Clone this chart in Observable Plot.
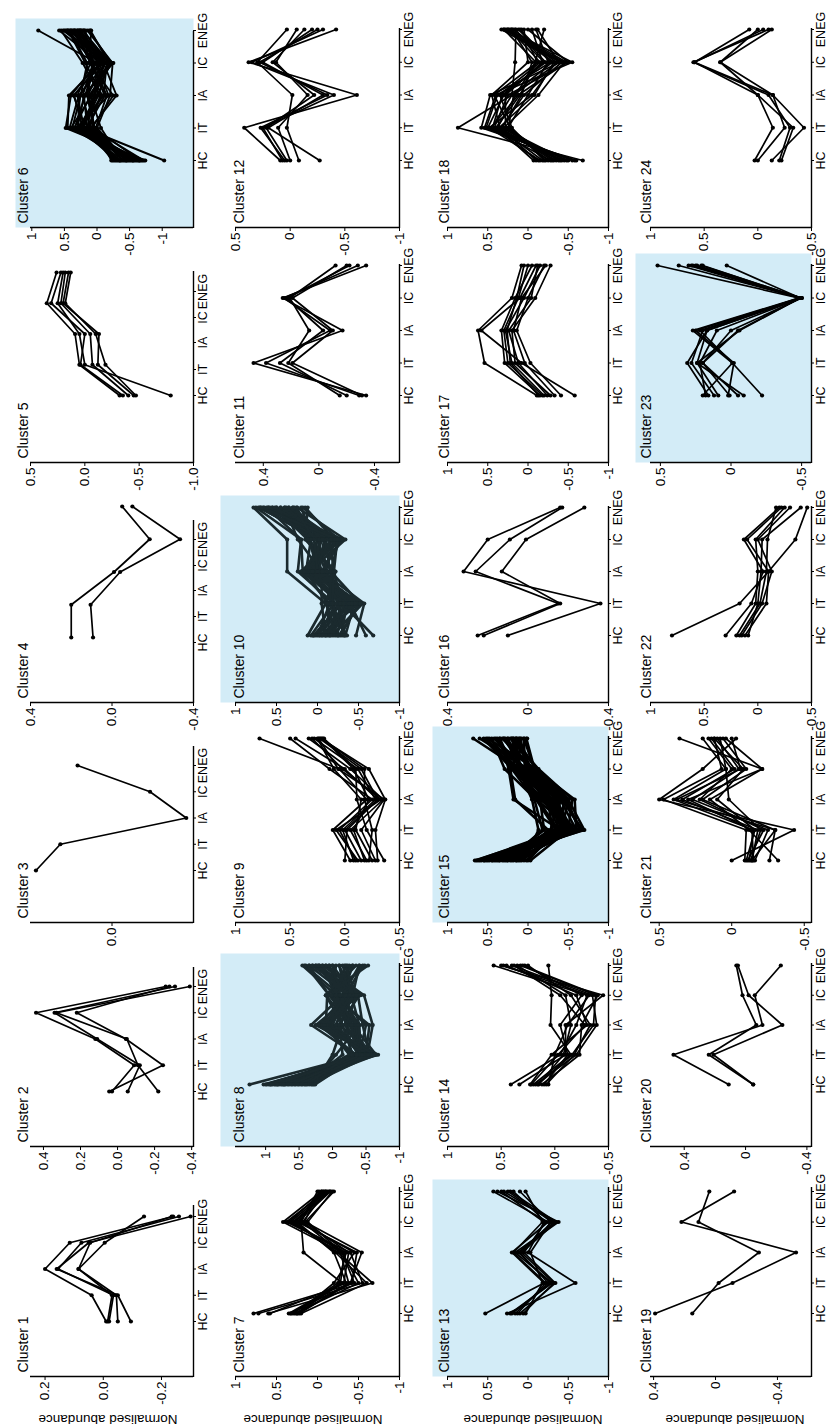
<!DOCTYPE html>
<html><head><meta charset="utf-8">
<script src="https://cdn.jsdelivr.net/npm/d3@7"></script>
<script src="https://cdn.jsdelivr.net/npm/@observablehq/plot@0.6"></script>
<style>
html,body{margin:0;padding:0;background:#fff;}
body{width:831px;height:1427px;overflow:hidden;position:relative;}
#land{position:absolute;left:0;top:0;width:1427px;height:831px;transform-origin:0 0;transform:translate(0px,1427px) rotate(-90deg);}
#land svg{position:absolute;left:0;top:0;overflow:visible;}
</style></head><body><div id="land"></div>
<script>
const categories = ["HC","IT","IA","IC","ENEG"];
const yTitle = "Normalised abundance";

const c1Lines = [
  [-0.01, 0.04, 0.2, 0.115, -0.24],
  [-0.02, -0.035, 0.155, 0.075, -0.26],
  [-0.05, -0.045, 0.085, -0.005, -0.14],
  [-0.095, -0.05, 0.16, 0.05, -0.3],
  [-0.015, -0.03, 0.085, 0.045, -0.235]];
const c1Ticks = [0.2, 0, -0.2], c1Labels = ["0.2","0.0","-0.2"], c1Domain = [-0.31, 0.25];

const c2Lines = [
  [0.045, -0.245, -0.045, 0.22, -0.28],
  [0.03, -0.09, 0.12, 0.44, -0.26],
  [-0.055, -0.12, 0.11, 0.34, -0.31],
  [-0.22, -0.11, -0.05, 0.33, -0.39]];
const c2Ticks = [0.4, 0.2, 0, -0.2, -0.4], c2Labels = ["0.4","0.2","0.0","-0.2","-0.4"], c2Domain = [-0.41, 0.47];

const c3Lines = [[0.42, 0.285, -0.41, -0.21, 0.19]];
const c3Ticks = [0], c3Labels = ["0.0"], c3Domain = [-0.45, 0.45];

const c4Lines = [
  [0.2, 0.2, -0.01, -0.185, -0.05],
  [0.093, 0.105, -0.04, -0.334, -0.1]];
const c4Ticks = [0.4, 0, -0.4], c4Labels = ["0.4","0.0","-0.4"], c4Domain = [-0.4, 0.4];

const c5Lines = [
  [-0.32, 0.05, 0.09, 0.35, 0.26],
  [-0.35, 0.04, 0.0, 0.31, 0.22],
  [-0.4, -0.07, -0.05, 0.22, 0.18],
  [-0.45, -0.12, -0.13, 0.2, 0.15],
  [-0.47, -0.19, -0.1, 0.18, 0.13],
  [-0.79, 0.0, 0.05, 0.25, 0.2]];
const c5Ticks = [0.5, 0, -0.5, -1], c5Labels = ["0.5","0.0","-0.5","-1.0"], c5Domain = [-1, 0.5];

const c6Lines = [
  [-1.03, 0.2, 0.05, -0.1, 0.3],
  [-0.74, 0.48, 0.4, 0.0, 0.9],
  [-0.7, 0.45, 0.43, -0.05, 0.58],
  [-0.65, 0.35, 0.1, -0.2, 0.5],
  [-0.6, 0.3, 0.2, -0.25, 0.45],
  [-0.58, 0.25, -0.1, -0.15, 0.4],
  [-0.55, 0.2, 0.3, 0.1, 0.35],
  [-0.52, 0.15, 0.05, -0.22, 0.3],
  [-0.5, 0.1, -0.3, -0.1, 0.25],
  [-0.48, 0.05, 0.15, 0.05, 0.2],
  [-0.45, 0.0, -0.2, -0.24, 0.15],
  [-0.42, 0.38, 0.25, 0.15, 0.42],
  [-0.4, 0.12, -0.05, 0.22, 0.55],
  [-0.38, -0.06, 0.1, -0.18, 0.1],
  [-0.35, 0.22, 0.35, -0.08, 0.28],
  [-0.32, 0.08, -0.25, 0.12, 0.09],
  [-0.3, 0.28, 0.0, -0.02, 0.38],
  [-0.26, 0.15, 0.2, -0.2, 0.22],
  [-0.22, 0.02, -0.15, 0.08, 0.18],
  [-0.62, 0.4, 0.08, -0.12, 0.33],
  [-0.68, 0.32, -0.18, 0.02, 0.48],
  [-0.56, 0.42, 0.28, -0.14, 0.52],
  [-0.46, 0.18, 0.36, -0.06, 0.26],
  [-0.36, 0.26, -0.08, 0.18, 0.44],
  [-0.28, 0.04, 0.12, -0.22, 0.12],
  [-0.72, 0.1, 0.22, 0.06, 0.36],
  [-0.64, 0.22, -0.02, -0.18, 0.27],
  [-0.54, 0.34, 0.18, 0.04, 0.46],
  [-0.44, 0.1, 0.04, -0.12, 0.2],
  [-0.34, 0.3, 0.26, -0.04, 0.34],
  [-0.24, 0.16, -0.12, 0.1, 0.24],
  [-0.66, 0.05, 0.14, -0.08, 0.4]];
const c6Ticks = [1, 0.5, 0, -0.5, -1], c6Labels = ["1","0.5","0","-0.5","-1"], c6Domain = [-1.48, 1.02];

const c7Lines = [
  [0.78, -0.45, -0.3, 0.42, -0.05],
  [0.72, -0.55, -0.4, 0.38, -0.1],
  [0.6, -0.67, -0.25, 0.3, -0.15],
  [0.58, -0.35, -0.2, 0.25, -0.08],
  [0.35, -0.3, 0.17, 0.2, 0.0],
  [0.33, -0.4, -0.54, 0.15, -0.2],
  [0.3, -0.25, -0.35, 0.33, -0.12],
  [0.28, -0.5, -0.3, 0.12, -0.18],
  [0.25, -0.2, -0.45, 0.22, -0.05],
  [0.22, -0.38, -0.28, 0.18, -0.1],
  [0.2, -0.6, -0.22, 0.28, -0.14],
  [0.32, -0.32, -0.38, 0.16, -0.02],
  [0.26, -0.42, -0.48, 0.24, -0.16],
  [0.24, -0.28, -0.33, 0.35, -0.07]];
const c7Ticks = [1, 0.5, 0, -0.5, -1], c7Labels = ["1","0.5","0","-0.5","-1"], c7Domain = [-1, 1];

const c8Lines = [
  [1.24, -0.45, -0.2, -0.1, 0.2],
  [1.03, -0.6, 0.1, -0.3, -0.4],
  [1.0, -0.5, -0.3, 0.05, 0.35],
  [0.98, -0.55, 0.2, -0.2, -0.1],
  [0.95, -0.4, -0.5, -0.05, 0.45],
  [0.92, -0.62, -0.1, -0.4, 0.1],
  [0.9, -0.35, 0.32, -0.15, -0.3],
  [0.87, -0.48, -0.25, 0.1, -0.53],
  [0.85, -0.58, 0.05, -0.35, 0.3],
  [0.82, -0.42, -0.4, -0.1, 0.0],
  [0.8, -0.68, 0.15, -0.25, 0.25],
  [0.77, -0.3, -0.15, 0.0, -0.2],
  [0.75, -0.52, -0.6, -0.47, 0.15],
  [0.72, -0.45, 0.0, -0.2, -0.45],
  [0.7, -0.38, -0.35, 0.05, 0.4],
  [0.67, -0.6, 0.25, -0.3, -0.15],
  [0.65, -0.5, -0.2, -0.12, 0.05],
  [0.6, -0.55, -0.45, -0.38, 0.2],
  [0.57, -0.25, 0.1, 0.08, -0.35],
  [0.55, -0.4, -0.05, -0.22, 0.35],
  [0.5, -0.65, -0.3, -0.08, -0.25],
  [0.47, -0.35, 0.2, -0.42, 0.1],
  [0.45, -0.5, -0.55, 0.0, -0.05],
  [0.42, -0.15, -0.1, -0.3, 0.3],
  [0.38, -0.45, 0.05, -0.15, -0.4],
  [0.35, -0.58, -0.25, -0.05, 0.15],
  [0.32, -0.05, -0.4, -0.28, -0.1],
  [0.3, -0.3, 0.15, -0.35, 0.25],
  [0.28, 0.0, -0.15, 0.1, -0.3],
  [0.26, -0.42, -0.35, -0.18, 0.05],
  [0.93, -0.47, -0.05, -0.26, -0.22],
  [0.83, -0.36, -0.28, -0.12, 0.42],
  [0.73, -0.62, 0.08, -0.32, 0.0],
  [0.62, -0.44, -0.38, 0.02, -0.48],
  [0.52, -0.53, 0.12, -0.2, 0.22],
  [0.4, -0.28, -0.2, -0.36, -0.18]];
const c8Ticks = [1, 0.5, 0, -0.5, -1], c8Labels = ["1","0.5","0","-0.5","-1"], c8Domain = [-1, 1.45];

const c9Lines = [
  [-0.05, 0.11, -0.2, 0.05, 0.78],
  [-0.1, 0.05, -0.25, 0.14, 0.5],
  [-0.15, 0.0, -0.3, 0.0, 0.45],
  [-0.2, -0.05, -0.35, -0.05, 0.33],
  [-0.25, -0.1, -0.15, 0.1, 0.25],
  [-0.3, -0.28, -0.37, -0.22, 0.22],
  [-0.36, -0.2, -0.11, -0.1, 0.19],
  [0.0, -0.02, -0.3, -0.15, 0.23],
  [-0.12, 0.08, -0.33, 0.02, 0.3],
  [-0.18, -0.08, -0.22, -0.08, 0.2],
  [-0.08, 0.02, -0.28, -0.12, 0.28],
  [-0.28, -0.15, -0.36, 0.06, 0.24],
  [-0.22, -0.25, -0.18, -0.18, 0.21]];
const c9Ticks = [1, 0.5, 0, -0.5], c9Labels = ["1","0.5","0.0","-0.5"], c9Domain = [-0.5, 1];

const c10Lines = [
  [0.12, -0.1, 0.37, 0.37, 0.78],
  [0.08, -0.2, 0.24, 0.2, 0.75],
  [0.05, -0.3, 0.1, 0.0, 0.7],
  [0.02, -0.4, -0.1, -0.2, 0.65],
  [0.0, -0.15, 0.2, -0.3, 0.6],
  [-0.03, -0.5, 0.0, 0.1, 0.55],
  [-0.05, -0.25, -0.15, -0.1, 0.5],
  [-0.08, -0.35, 0.15, -0.25, 0.45],
  [-0.1, -0.05, -0.05, 0.24, 0.4],
  [-0.12, -0.45, 0.05, -0.05, 0.35],
  [-0.15, -0.3, -0.2, -0.15, 0.3],
  [-0.18, -0.55, 0.1, -0.34, 0.25],
  [-0.2, -0.2, -0.1, 0.05, 0.2],
  [-0.22, -0.4, 0.2, -0.2, 0.15],
  [-0.25, -0.1, -0.22, 0.15, 0.12],
  [-0.28, -0.5, 0.0, -0.1, 0.5],
  [-0.3, -0.35, 0.12, -0.28, 0.6],
  [-0.32, -0.25, -0.12, 0.0, 0.7],
  [-0.34, -0.45, 0.05, -0.18, 0.4],
  [-0.36, -0.15, -0.18, 0.1, 0.3],
  [-0.47, -0.57, -0.05, -0.3, 0.55],
  [-0.59, -0.4, 0.08, -0.12, 0.45],
  [-0.68, -0.3, -0.08, -0.22, 0.35],
  [0.04, -0.28, 0.18, 0.2, 0.62],
  [-0.06, -0.48, -0.02, -0.08, 0.72],
  [-0.14, -0.12, 0.14, 0.08, 0.25],
  [-0.26, -0.52, -0.16, -0.26, 0.18],
  [-0.1, -0.38, 0.02, -0.02, 0.58],
  [-0.02, -0.22, 0.06, -0.16, 0.66],
  [-0.16, -0.42, -0.06, 0.12, 0.52],
  [-0.24, -0.32, 0.16, -0.06, 0.38],
  [-0.33, -0.18, -0.2, -0.24, 0.68],
  [0.06, -0.46, 0.0, 0.04, 0.28]];
const c10Ticks = [1, 0.5, 0, -0.5, -1], c10Labels = ["1","0.5","0","-0.5","-1"], c10Domain = [-1, 1];

const c11Lines = [
  [-0.34, 0.47, -0.17, 0.26, -0.34],
  [-0.29, 0.38, -0.08, 0.25, -0.28],
  [-0.2, 0.28, -0.03, 0.23, -0.22],
  [-0.15, 0.22, 0.07, 0.21, -0.12],
  [-0.31, 0.19, -0.1, 0.19, -0.2]];
const c11Ticks = [0.4, 0, -0.4], c11Labels = ["0.4","0","-0.4"], c11Domain = [-0.58, 0.6];

const c12Lines = [
  [0.09, 0.42, -0.61, 0.38, -0.42],
  [0.05, 0.27, -0.34, 0.28, -0.25],
  [0.03, 0.22, -0.22, 0.16, -0.13],
  [0.0, 0.11, -0.16, 0.13, -0.06],
  [-0.08, 0.03, -0.02, 0.3, 0.03],
  [-0.27, 0.2, -0.3, 0.25, -0.2],
  [0.07, 0.25, -0.4, 0.35, -0.3]];
const c12Ticks = [0.5, 0, -0.5, -1], c12Labels = ["0.5","0","-0.5","-1"], c12Domain = [-1, 0.5];

const c13Lines = [
  [0.53, -0.2, 0.2, -0.25, 0.43],
  [0.26, -0.59, 0.0, -0.2, 0.33],
  [0.22, -0.3, 0.16, -0.38, 0.38],
  [0.16, -0.25, 0.1, -0.3, 0.25],
  [0.1, -0.34, 0.05, -0.22, 0.18],
  [0.03, -0.18, -0.03, -0.28, 0.1],
  [0.2, -0.28, 0.12, -0.33, 0.3],
  [0.13, -0.22, 0.18, -0.18, 0.03],
  [0.06, -0.32, 0.08, -0.35, 0.22]];
const c13Ticks = [1, 0.5, 0, -0.5, -1], c13Labels = ["1","0.5","0","-0.5","-1"], c13Domain = [-1, 1];

const c14Lines = [
  [0.41, -0.05, -0.2, -0.3, 0.57],
  [0.33, -0.1, -0.1, -0.45, 0.5],
  [0.23, 0.03, -0.3, -0.2, 0.45],
  [0.2, -0.15, 0.04, 0.03, 0.06],
  [0.18, -0.2, -0.39, -0.35, 0.4],
  [0.15, -0.08, -0.15, -0.1, 0.35],
  [0.12, -0.23, -0.25, -0.4, 0.3],
  [0.1, -0.12, -0.05, -0.25, 0.28],
  [0.08, -0.18, -0.33, -0.15, 0.25],
  [0.06, 0.0, -0.12, -0.32, 0.48],
  [0.22, -0.03, -0.28, -0.05, 0.38],
  [0.16, -0.16, -0.36, -0.38, 0.32]];
const c14Ticks = [1, 0.5, 0, -0.5], c14Labels = ["1","0.5","0.0","-0.5"], c14Domain = [-0.5, 1];

const c15Lines = [
  [0.66, -0.5, -0.3, 0.1, 0.68],
  [0.62, -0.6, -0.4, 0.0, 0.6],
  [0.6, -0.45, -0.2, 0.2, 0.55],
  [0.55, -0.7, -0.5, -0.1, 0.5],
  [0.5, -0.35, -0.1, 0.29, 0.45],
  [0.45, -0.55, -0.35, 0.05, 0.4],
  [0.42, -0.4, 0.18, 0.24, 0.35],
  [0.4, -0.65, -0.45, -0.05, 0.3],
  [0.35, -0.3, -0.25, 0.15, 0.25],
  [0.3, -0.5, -0.55, -0.13, 0.2],
  [0.28, -0.2, -0.15, 0.1, 0.15],
  [0.25, -0.45, -0.3, 0.0, 0.1],
  [0.2, -0.6, -0.58, -0.08, 0.05],
  [0.15, -0.25, 0.16, 0.22, 0.01],
  [0.1, -0.4, -0.2, 0.05, 0.3],
  [0.05, -0.13, -0.05, 0.12, 0.2],
  [0.0, -0.35, -0.4, -0.1, 0.15],
  [-0.03, -0.5, -0.25, 0.02, 0.1],
  [0.58, -0.55, -0.3, 0.08, 0.25],
  [0.52, -0.4, -0.45, -0.05, 0.18],
  [0.48, -0.62, -0.15, 0.18, 0.35],
  [0.38, -0.3, -0.35, -0.02, 0.12],
  [0.32, -0.52, -0.22, 0.06, 0.42],
  [0.22, -0.42, -0.5, -0.12, 0.22],
  [0.18, -0.58, -0.1, 0.14, 0.08],
  [0.12, -0.28, -0.38, -0.06, 0.28],
  [0.08, -0.48, -0.28, 0.04, 0.05],
  [0.02, -0.38, -0.12, 0.09, 0.18],
  [0.44, -0.68, -0.42, -0.08, 0.02],
  [0.26, -0.18, -0.08, 0.2, 0.38],
  [0.64, -0.42, -0.26, 0.12, 0.48],
  [0.54, -0.64, -0.48, -0.06, 0.32],
  [0.36, -0.48, -0.18, 0.16, 0.52],
  [0.14, -0.52, -0.34, -0.04, 0.14]];
const c15Ticks = [1, 0.5, 0, -0.5, -1], c15Labels = ["1","0.5","0","-0.5","-1"], c15Domain = [-1, 1];

const c16Lines = [
  [0.25, -0.15, 0.26, 0.09, -0.17],
  [0.22, -0.16, 0.13, 0.01, -0.28],
  [0.1, -0.36, 0.32, 0.2, -0.16]];
const c16Ticks = [0.4, 0, -0.4], c16Labels = ["0.4","0","-0.4"], c16Domain = [-0.4, 0.4];

const c17Lines = [
  [-0.11, 0.54, 0.62, 0.2, 0.08],
  [-0.58, 0.08, 0.58, 0.1, -0.1],
  [-0.15, 0.29, 0.33, 0.16, -0.05],
  [-0.2, 0.2, 0.28, 0.05, -0.15],
  [-0.28, 0.16, 0.2, -0.09, -0.28],
  [-0.41, -0.03, 0.14, 0.0, -0.2],
  [-0.18, 0.25, 0.3, 0.12, 0.0],
  [-0.24, 0.12, 0.24, -0.04, -0.12],
  [-0.33, 0.04, 0.18, 0.08, -0.22],
  [-0.13, 0.22, 0.26, 0.14, 0.05]];
const c17Ticks = [1, 0.5, 0, -0.5, -1], c17Labels = ["1","0.5","0","-0.5","-1"], c17Domain = [-1, 1];

const c18Lines = [
  [-0.68, 0.87, 0.2, -0.3, 0.1],
  [-0.6, 0.58, 0.47, -0.4, 0.33],
  [-0.55, 0.54, 0.4, -0.55, 0.25],
  [-0.5, 0.5, 0.3, -0.2, 0.2],
  [-0.45, 0.45, 0.2, 0.16, 0.15],
  [-0.4, 0.4, 0.1, -0.1, 0.3],
  [-0.35, 0.35, 0.45, 0.0, 0.05],
  [-0.3, 0.3, -0.13, -0.45, 0.28],
  [-0.25, 0.25, 0.0, -0.25, -0.1],
  [-0.2, 0.2, 0.35, -0.15, 0.22],
  [-0.15, 0.48, -0.05, -0.35, 0.18],
  [-0.13, 0.42, 0.25, -0.5, 0.0],
  [-0.07, 0.38, 0.15, -0.09, -0.2],
  [-0.58, 0.52, 0.38, -0.28, 0.12],
  [-0.48, 0.33, 0.05, -0.42, 0.3],
  [-0.38, 0.28, 0.28, -0.18, -0.05],
  [-0.28, 0.46, 0.12, -0.48, 0.24],
  [-0.22, 0.22, 0.42, -0.12, 0.08],
  [-0.18, 0.36, -0.08, -0.32, 0.26],
  [-0.42, 0.44, 0.32, -0.22, 0.16],
  [-0.32, 0.24, 0.18, -0.38, -0.12],
  [-0.1, 0.32, 0.08, -0.05, 0.2]];
const c18Ticks = [1, 0.5, 0, -0.5, -1], c18Labels = ["1","0.5","0","-0.5","-1"], c18Domain = [-1, 1];

const c19Lines = [
  [0.39, -0.11, -0.52, 0.22, -0.12],
  [0.15, -0.02, -0.28, 0.11, 0.04]];
const c19Ticks = [0.4, 0, -0.4], c19Labels = ["0.4","0","-0.4"], c19Domain = [-0.62, 0.42];

const c20Lines = [
  [0.11, 0.47, -0.11, -0.06, -0.23],
  [-0.05, 0.24, -0.07, 0.02, 0.06],
  [-0.05, 0.21, -0.24, -0.02, 0.05]];
const c20Ticks = [0.4, 0, -0.4], c20Labels = ["0.4","0","-0.4"], c20Domain = [-0.43, 0.62];

const c21Lines = [
  [0.0, -0.43, 0.5, 0.2, -0.03],
  [-0.09, -0.1, 0.47, 0.07, 0.12],
  [-0.12, -0.15, 0.4, 0.04, 0.2],
  [-0.14, -0.18, 0.34, -0.02, 0.14],
  [-0.16, -0.25, 0.27, -0.05, 0.1],
  [-0.26, -0.3, 0.2, -0.1, 0.06],
  [-0.32, -0.12, 0.15, -0.21, 0.36],
  [-0.1, -0.16, 0.1, -0.08, 0.12],
  [-0.13, -0.2, 0.02, 0.04, 0.08],
  [-0.15, -0.14, 0.3, -0.21, 0.04],
  [-0.11, -0.22, 0.22, 0.0, 0.16],
  [-0.14, -0.3, 0.38, -0.06, 0.0]];
const c21Ticks = [0.5, 0, -0.5], c21Labels = ["0.5","0","-0.5"], c21Domain = [-0.55, 0.56];

const c22Lines = [
  [0.8, 0.17, -0.1, -0.35, -0.46],
  [0.3, 0.06, -0.05, 0.13, -0.2],
  [0.2, 0.02, 0.0, 0.02, -0.25],
  [0.17, -0.02, -0.08, -0.09, -0.17],
  [0.15, -0.04, -0.13, 0.0, -0.3],
  [0.12, -0.08, -0.1, 0.1, -0.22],
  [0.09, 0.0, -0.03, -0.04, -0.4]];
const c22Ticks = [1, 0.5, 0, -0.5], c22Labels = ["1","0.5","0","-0.5"], c22Domain = [-0.5, 1];

const c23Lines = [
  [0.2, -0.01, 0.27, -0.48, 0.52],
  [0.16, 0.31, 0.17, -0.5, 0.37],
  [0.09, 0.24, -0.06, -0.49, 0.27],
  [0.01, 0.2, 0.0, -0.5, 0.21],
  [-0.09, 0.24, 0.17, -0.49, 0.03],
  [-0.22, -0.01, 0.22, -0.5, 0.25],
  [0.12, 0.28, 0.2, -0.48, 0.3],
  [-0.05, 0.2, -0.05, -0.49, 0.24],
  [0.18, 0.22, 0.1, -0.5, 0.28],
  [0.02, -0.02, 0.25, -0.49, 0.2]];
const c23Ticks = [0.5, 0, -0.5], c23Labels = ["0.5","0","-0.5"], c23Domain = [-0.57, 0.57];

const c24Lines = [
  [0.03, -0.14, 0.0, 0.59, 0.08],
  [0.0, -0.25, -0.14, 0.59, -0.05],
  [-0.13, -0.43, -0.14, 0.35, -0.13],
  [-0.22, -0.33, 0.0, 0.35, 0.0],
  [-0.2, -0.3, -0.1, 0.6, -0.1]];
const c24Ticks = [1, 0.5, 0, -0.5], c24Labels = ["1","0.5","0","-0.5"], c24Domain = [-0.5, 1];

const highlighted = [6, 8, 10, 13, 15, 23];
const denseSlate = [8, 10];
const denseHeavy = [6, 8, 10, 15];

// ---------- layout (landscape, before the page rotation) ----------
const W = 1427, H = 831;
const FONT = "'Liberation Sans', Arial, Helvetica, sans-serif";
const BLUE = "#d3ecf7";
const colX = [50, 280, 504, 724, 964, 1199];
const rowAxis = [[30,193],[235,399],[447,608],[650,811]];
const labelBase = [27, 243, 448, 650];
const rowTitleY = [108, 313, 533, 735];
const row1Layout = [
  {hc:55, en:160, end:172}, {hc:55, en:160, end:180}, {hc:52, en:157, end:177},
  {hc:65, en:196, end:183, ticks:[60,86,112,137,163]},
  {hc:67, en:190, end:192, ticks:[67,93,120,145,171]},
  {hc:67, en:197, end:197}];
const rowLayout = [
  {hc:63, en:185, end:190}, {hc:62, en:181, end:184}, {hc:62, en:184, end:187},
  {hc:67, en:195, end:197}, {hc:67, en:197, end:199}, {hc:67, en:198, end:200}];

const panels = [
  [c1Lines,c1Ticks,c1Labels,c1Domain],[c2Lines,c2Ticks,c2Labels,c2Domain],[c3Lines,c3Ticks,c3Labels,c3Domain],
  [c4Lines,c4Ticks,c4Labels,c4Domain],[c5Lines,c5Ticks,c5Labels,c5Domain],[c6Lines,c6Ticks,c6Labels,c6Domain],
  [c7Lines,c7Ticks,c7Labels,c7Domain],[c8Lines,c8Ticks,c8Labels,c8Domain],[c9Lines,c9Ticks,c9Labels,c9Domain],
  [c10Lines,c10Ticks,c10Labels,c10Domain],[c11Lines,c11Ticks,c11Labels,c11Domain],[c12Lines,c12Ticks,c12Labels,c12Domain],
  [c13Lines,c13Ticks,c13Labels,c13Domain],[c14Lines,c14Ticks,c14Labels,c14Domain],[c15Lines,c15Ticks,c15Labels,c15Domain],
  [c16Lines,c16Ticks,c16Labels,c16Domain],[c17Lines,c17Ticks,c17Labels,c17Domain],[c18Lines,c18Ticks,c18Labels,c18Domain],
  [c19Lines,c19Ticks,c19Labels,c19Domain],[c20Lines,c20Ticks,c20Labels,c20Domain],[c21Lines,c21Ticks,c21Labels,c21Domain],
  [c22Lines,c22Ticks,c22Labels,c22Domain],[c23Lines,c23Ticks,c23Labels,c23Domain],[c24Lines,c24Ticks,c24Labels,c24Domain]
].map(([lines, ticks, labels, domain], i) => ({n: i + 1, lines, ticks, labels, domain}));

const land = document.getElementById("land");

panels.forEach((p, idx) => {
  const r = Math.floor(idx / 6), c = idx % 6;
  const corner = colX[c];
  const [aTop, aBot] = rowAxis[r];
  const L = r === 0 ? row1Layout[c] : rowLayout[c];
  const x0 = corner + L.hc, x4 = corner + L.en;
  const unit = (x4 - x0) / 4;
  const xc = (corner - x0) / unit;
  const xEnd = (corner + L.end - x0) / unit;
  const tickPos = L.ticks ? L.ticks.map(o => (corner + o - x0) / unit) : [0, 1, 2, 3, 4];
  const catMap = new Map(tickPos.map((d, i) => [d, categories[i]]));
  const yMap = new Map(p.ticks.map((d, i) => [d, p.labels[i]]));
  const [ymin, ymax] = p.domain;
  const rows = p.lines.flatMap((vals, k) => vals.map((v, i) => ({id: k, t: i, v})));
  const color = denseSlate.includes(p.n) ? "#1b2a2e" : "#000";
  const sw = denseHeavy.includes(p.n) ? (p.n === 6 ? 1.9 : 2.6) : 1.7;
  const isBlue = highlighted.includes(p.n);
  const frameTop = aTop - 15;
  const marks = [];
  if (isBlue) marks.push(Plot.frame({fill: BLUE, stroke: null}));
  marks.push(
    Plot.ruleX([xc], {y1: ymin, y2: ymax, stroke: "#000", strokeWidth: 1.4}),
    Plot.ruleY([ymin], {x1: xc, x2: xEnd, stroke: "#000", strokeWidth: 1.4}),
    Plot.axisY({anchor: "left", ticks: p.ticks, tickFormat: d => yMap.get(d), tickSize: 3, tickPadding: 2, label: null, fontSize: 13.5}),
    Plot.axisX({anchor: "bottom", ticks: tickPos, tickFormat: d => catMap.get(d), tickSize: 3, tickPadding: 2, label: null, fontSize: 12.5}),
    Plot.line(rows, {x: "t", y: "v", z: "id", stroke: color, strokeWidth: sw, strokeLinejoin: "miter"}),
    Plot.dot(rows, {x: "t", y: "v", r: 2.1, fill: color, stroke: null}),
    Plot.text([`Cluster ${p.n}`], {frameAnchor: "top-left", dx: 4, dy: labelBase[r] - frameTop, textAnchor: "start", lineAnchor: "bottom", fontSize: 14})
  );
  const svg = Plot.plot({
    width: W, height: H,
    marginLeft: corner, marginTop: frameTop,
    marginRight: W - (corner + L.en + 12), marginBottom: H - aBot,
    x: {domain: [0, 4], range: [x0, x4]},
    y: {domain: [ymin, ymax], range: [aBot, aTop]},
    style: {fontFamily: FONT, fontSize: "13.5px", background: "transparent", overflow: "visible", color: "#000"},
    marks
  });
  land.appendChild(svg);
});

// row titles (y-axis title repeated for each row)
const ns = "http://www.w3.org/2000/svg";
const over = document.createElementNS(ns, "svg");
over.setAttribute("width", W); over.setAttribute("height", H);
rowTitleY.forEach(y => {
  const t = document.createElementNS(ns, "text");
  t.setAttribute("transform", `translate(12,${y}) rotate(-90)`);
  t.setAttribute("text-anchor", "middle");
  t.setAttribute("font-family", "Liberation Sans, Arial, sans-serif");
  t.setAttribute("font-size", "13.5");
  t.textContent = yTitle;
  over.appendChild(t);
});
land.appendChild(over);
</script></body></html>
